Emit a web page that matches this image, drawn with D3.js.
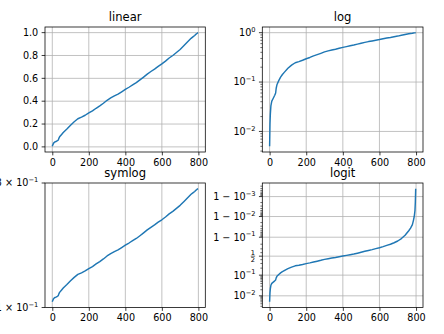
<!DOCTYPE html>
<html>
<head>
<meta charset="utf-8">
<script src="https://cdn.jsdelivr.net/npm/d3@7"></script>
<style>
  html, body { margin: 0; padding: 0; background: #fff; }
  svg { display: block; font-family: "DejaVu Sans", sans-serif; }
</style>
</head>
<body>
<svg id="fig" width="444" height="334"></svg>
<script>
// Sorted sample values, indexed by their position in the sorted sequence
const sampleIndex = [0, 2, 4, 7, 12, 20, 28, 33, 36, 40, 50, 60, 70, 80, 100, 120, 140, 160, 180,
  200, 220, 240, 260, 280, 300, 320, 340, 360, 380, 400, 420, 440, 460, 480, 500, 520, 540, 560,
  580, 600, 620, 640, 660, 680, 700, 720, 740, 760, 770, 780, 786, 790, 794, 796, 798];
const sampleValue = [0.005, 0.014, 0.022, 0.033, 0.041, 0.047, 0.054, 0.060, 0.075, 0.088, 0.107,
  0.126, 0.142, 0.157, 0.19, 0.22, 0.246, 0.26, 0.277, 0.297, 0.315, 0.338, 0.359, 0.382, 0.408,
  0.428, 0.446, 0.462, 0.482, 0.503, 0.522, 0.542, 0.562, 0.586, 0.611, 0.637, 0.66, 0.681, 0.705,
  0.726, 0.751, 0.778, 0.80, 0.826, 0.853, 0.885, 0.918, 0.95, 0.963, 0.975, 0.985, 0.99, 0.995,
  0.998, 0.9996];

const panelTitles = ["linear", "log", "symlog", "logit"];
const xTicks = [0, 200, 400, 600, 800];
const linearTicks = [0, 0.2, 0.4, 0.6, 0.8, 1.0];
const logTicks = [0.01, 0.1, 1];
const logTickExponents = ["\u22122", "\u22121", "0"];
const logitTicks = [0.01, 0.1, 0.5, 0.9, 0.99, 0.999];
const logitTickPrefix = ["", "", null, "1 \u2212 ", "1 \u2212 ", "1 \u2212 "];
const logitTickExponents = ["\u22122", "\u22121", null, "\u22121", "\u22122", "\u22123"];
const symlogTickMantissa = ["1", "3"];
const symlogTickExponent = "\u22121";

// Figure geometry
const cols = [[45, 205.3], [262.3, 423]];
const rows = [[27, 152], [183, 307.5]];
const LINE_COLOR = "#1f77b4";
const GRID_COLOR = "#b0b0b0";
const FONT = 9.64, TITLE_FONT = 11.57, SUP_FONT = 6.7;
const MAJOR = 3.37, MINOR = 1.93, PAD = 3.37;

const svg = d3.select("#fig");
const points = sampleIndex.map((x, i) => ({ x, y: sampleValue[i] }));

function padded(lo, hi) { const r = hi - lo; return [lo - 0.05 * r, hi + 0.05 * r]; }
const logit = p => Math.log(p / (1 - p));

const xDomain = padded(d3.min(sampleIndex), d3.max(sampleIndex));
const yExt = d3.extent(sampleValue);

function makePanel(ci, ri, title, yScale, opts) {
  const [x0, x1] = cols[ci], [y0, y1] = rows[ri];
  const x = d3.scaleLinear().domain(xDomain).range([x0, x1]);
  const g = svg.append("g");
  const clipId = "clip" + ci + ri;
  g.append("clipPath").attr("id", clipId)
    .append("rect").attr("x", x0).attr("y", y0).attr("width", x1 - x0).attr("height", y1 - y0);

  // grid
  const grid = g.append("g").attr("stroke", GRID_COLOR).attr("stroke-width", 0.77);
  xTicks.forEach(t => grid.append("line").attr("x1", x(t)).attr("x2", x(t)).attr("y1", y0).attr("y2", y1));
  (opts.gridY || []).forEach(t => grid.append("line").attr("x1", x0).attr("x2", x1)
    .attr("y1", yScale(t)).attr("y2", yScale(t)));

  // data line
  g.append("path").datum(points)
    .attr("clip-path", `url(#${clipId})`)
    .attr("fill", "none").attr("stroke", LINE_COLOR).attr("stroke-width", 1.45)
    .attr("stroke-linejoin", "round")
    .attr("d", d3.line().x(d => x(d.x)).y(d => yScale(d.y)));

  // spines
  g.append("rect").attr("x", x0).attr("y", y0).attr("width", x1 - x0).attr("height", y1 - y0)
    .attr("fill", "none").attr("stroke", "#000").attr("stroke-width", 0.77);

  // x axis
  const xa = g.append("g").attr("transform", `translate(0,${y1})`)
    .call(d3.axisBottom(x).tickValues(xTicks).tickSize(MAJOR).tickPadding(PAD).tickFormat(d3.format("d")));
  xa.select(".domain").remove();
  xa.selectAll("line").attr("stroke", "#000").attr("stroke-width", 0.77);
  xa.selectAll("text").attr("font-size", FONT).attr("font-family", "DejaVu Sans").attr("fill", "#000");

  // y ticks
  const ya = g.append("g");
  (opts.minorY || []).forEach(t => ya.append("line").attr("x1", x0 - MINOR).attr("x2", x0)
    .attr("y1", yScale(t)).attr("y2", yScale(t)).attr("stroke", "#000").attr("stroke-width", 0.58));
  opts.majorY.forEach((t, i) => {
    const py = yScale(t);
    ya.append("line").attr("x1", x0 - MAJOR).attr("x2", x0).attr("y1", py).attr("y2", py)
      .attr("stroke", "#000").attr("stroke-width", 0.77);
    opts.label(ya, x0 - MAJOR - PAD, py, i);
  });

  // title
  g.append("text").attr("x", (x0 + x1) / 2).attr("y", y0 - 5.6)
    .attr("text-anchor", "middle").attr("font-size", TITLE_FONT).attr("fill", "#000").text(title);
}

function plainLabel(g, x, y, s) {
  g.append("text").attr("x", x).attr("y", y).attr("dy", "0.33em")
    .attr("text-anchor", "end").attr("font-size", FONT).attr("fill", "#000").text(s);
}
function powerLabel(g, x, y, prefix, exp) {
  const t = g.append("text").attr("x", x).attr("y", y + 3.4)
    .attr("text-anchor", "end").attr("font-size", FONT).attr("fill", "#000");
  t.append("tspan").text(prefix + "10");
  t.append("tspan").attr("font-size", SUP_FONT).attr("dy", -4.2).text(exp);
}
function halfLabel(g, x, y) {
  const cx = x - 2.6;
  g.append("text").attr("x", cx).attr("y", y - 1.2).attr("text-anchor", "middle")
    .attr("font-size", SUP_FONT).attr("fill", "#000").text("1");
  g.append("line").attr("x1", cx - 2.2).attr("x2", cx + 2.2).attr("y1", y).attr("y2", y)
    .attr("stroke", "#000").attr("stroke-width", 0.6);
  g.append("text").attr("x", cx).attr("y", y + 5.8).attr("text-anchor", "middle")
    .attr("font-size", SUP_FONT).attr("fill", "#000").text("2");
}

// linear
const yLin = d3.scaleLinear().domain(padded(yExt[0], yExt[1])).range([rows[0][1], rows[0][0]]);
makePanel(0, 0, panelTitles[0], yLin, {
  gridY: linearTicks, majorY: linearTicks,
  label: (g, x, y, i) => plainLabel(g, x, y, d3.format(".1f")(linearTicks[i]))
});

// log
const logDom = padded(Math.log10(yExt[0]), Math.log10(yExt[1]));
const yLog = d3.scaleLog().domain([10 ** logDom[0], 10 ** logDom[1]]).range([rows[0][1], rows[0][0]]);
const logMinor = [];
for (let k = -3; k <= 0; k++) for (let m = 2; m <= 9; m++) {
  const v = m * 10 ** k;
  if (v >= 10 ** logDom[0] && v <= 10 ** logDom[1]) logMinor.push(v);
}
makePanel(1, 0, panelTitles[1], yLog, {
  gridY: logTicks, majorY: logTicks, minorY: logMinor,
  label: (g, x, y, i) => powerLabel(g, x, y, "", logTickExponents[i])
});

// symlog
const ySym = d3.scaleLinear().domain(padded(yExt[0], yExt[1])).range([rows[1][1], rows[1][0]]);
const symEnds = ySym.domain();
makePanel(0, 1, panelTitles[2], ySym, {
  gridY: [], majorY: symEnds,
  label: (g, x, y, i) => powerLabel(g, x, y, symlogTickMantissa[i] + " \u00d7 ", symlogTickExponent)
});

// logit
const logitDom = padded(logit(yExt[0]), logit(yExt[1]));
const logitLin = d3.scaleLinear().domain(logitDom).range([rows[1][1], rows[1][0]]);
const yLogit = p => logitLin(logit(p));
const logitMinor = [];
for (const k of [-3, -2]) for (let m = 2; m <= 9; m++) logitMinor.push(m * 10 ** k);
[0.2, 0.3, 0.4, 0.6, 0.7, 0.8].forEach(v => logitMinor.push(v));
for (const k of [-2, -3, -4]) for (let m = 2; m <= 9; m++) logitMinor.push(1 - m * 10 ** k);
const pLo = 1 / (1 + Math.exp(-logitDom[0])), pHi = 1 / (1 + Math.exp(-logitDom[1]));
makePanel(1, 1, panelTitles[3], yLogit, {
  gridY: logitTicks, majorY: logitTicks,
  minorY: logitMinor.filter(v => v >= pLo && v <= pHi),
  label: (g, x, y, i) => logitTickPrefix[i] === null
    ? halfLabel(g, x, y)
    : powerLabel(g, x, y, logitTickPrefix[i], logitTickExponents[i])
});
</script>
</body>
</html>
